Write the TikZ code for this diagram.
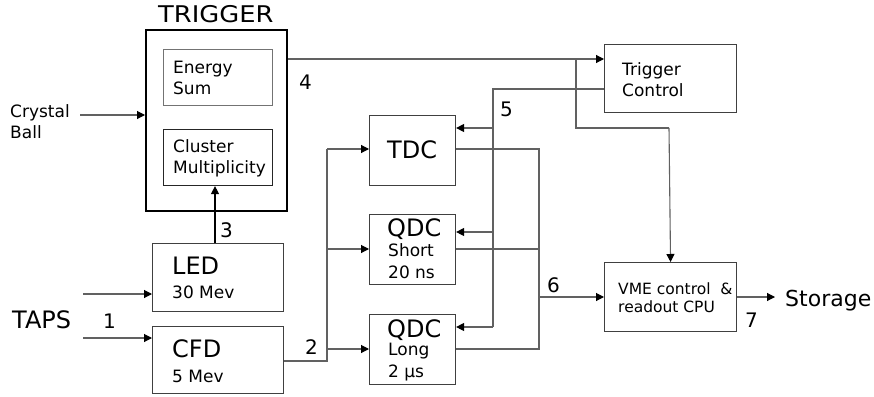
\documentclass[tikz,border=0pt]{standalone}
\usepackage{fontspec}
\setmainfont{DejaVu Sans}
\usetikzlibrary{arrows.meta}
\newcommand\fzBig{\fontsize{24}{28}\selectfont}
\newcommand\fzNum{\fontsize{20}{24}\selectfont}
\newcommand\fzMid{\fontsize{17}{20}\selectfont}
\newcommand\fzSm{\fontsize{15.5}{18}\selectfont}
\begin{document}
\begin{tikzpicture}[x=1pt,y=-1pt,
  box/.style={draw=black!75, line width=1.1pt, inner sep=0pt, anchor=north west},
  sz/.style n args={2}{minimum width=#1pt, minimum height=#2pt},
  lbl/.style={inner sep=0pt, anchor=base west},
  wire/.style={draw=black!62, line width=1.1pt},
  arr/.style={wire, -{Triangle[length=8pt,width=8pt,color=black]}}]
\useasboundingbox (0,0) rectangle (874,396);

% boxes
\node[box, draw=black, line width=2pt, sz={141}{181}] (trig) at (145,29) {};
\node[box, draw=black!55, sz={109}{56}] (esum) at (163,49) {};
\node[box, draw=black!85, sz={109}{56}] (clus) at (163,129) {};
\node[box, sz={131}{68}] (led) at (152,243) {};
\node[box, sz={131}{67}] (cfd) at (152,326) {};
\node[box, sz={86}{70}] (tdc) at (369,115) {};
\node[box, sz={86}{70}] (qs) at (369,214) {};
\node[box, sz={86}{70}] (ql) at (369,314) {};
\node[box, sz={132}{68}] (tc) at (604,44) {};
\node[box, sz={132}{69}] (vme) at (604,262) {};

% texts
\node[lbl, font={\fontsize{23}{26}\selectfont}] (ttitle) at (158,23) {\scalebox{1.12}[1]{TRIGGER}};
\node[lbl, font=\fzMid] (tes1) at (173,74) {Energy};
\node[lbl, font=\fzMid] (tes2) at (173,94) {Sum};
\node[lbl, font=\fzMid] (tcl1) at (173,152) {Cluster};
\node[lbl, font=\fzMid] (tcl2) at (173,173) {Multiplicity};
\node[lbl, font=\fzMid] (tcb1) at (10,117) {Crystal};
\node[lbl, font=\fzMid] (tcb2) at (10,138) {Ball};
\node[lbl, font=\fzBig] (tled) at (172,274) {LED};
\node[lbl, font=\fzMid] (tled2) at (172,298) {30 Mev};
\node[lbl, font=\fzBig] (tcfd) at (172,357) {CFD};
\node[lbl, font=\fzMid] (tcfd2) at (172,382) {5 Mev};
\node[lbl, font=\fzBig] (ttaps) at (12,328) {TAPS};
\node[lbl, font=\fzNum] (n1) at (103,328) {1};
\node[lbl, font=\fzNum] (n2) at (305,354) {2};
\node[lbl, font=\fzNum] (n3) at (220,237) {3};
\node[lbl, font=\fzNum] (n4) at (299,89) {4};
\node[lbl, font=\fzNum] (n5) at (500,116) {5};
\node[lbl, font=\fzNum] (n6) at (547,292) {6};
\node[lbl, font=\fzNum] (n7) at (745,327) {7};
\node[lbl, font=\fzBig] (ttdc) at (387,158) {TDC};
\node[lbl, font=\fzBig] (tqs1) at (387,236) {QDC};
\node[lbl, font=\fzMid] (tqs2) at (388,256) {Short};
\node[lbl, font=\fzMid] (tqs3) at (388,278) {20 ns};
\node[lbl, font=\fzBig] (tql1) at (387,337) {QDC};
\node[lbl, font=\fzMid] (tql2) at (388,355) {Long};
\node[lbl, font=\fzMid] (tql3) at (388,377) {2 µs};
\node[lbl, font=\fzMid] (ttc1) at (622,75) {Trigger};
\node[lbl, font=\fzMid] (ttc2) at (622,96) {Control};
\node[lbl, font=\fzSm] (tv1) at (618,294) {VME control\ \ \&};
\node[lbl, font=\fzSm] (tv2) at (618,312) {readout CPU};
\node[lbl, font={\fontsize{22}{26}\selectfont}] (tsto) at (785,306) {Storage};

% coordinates
\coordinate (cbin) at (80,115);
\coordinate (tapsA) at (83,294);
\coordinate (tapsB) at (83,338);
\coordinate (s4) at (576,59);
\coordinate (s4b) at (576,128);
\coordinate (s4c) at (669,128);
\coordinate (s5) at (493,89);
\coordinate (s5a) at (493,128);
\coordinate (s5b) at (493,232);
\coordinate (s5c) at (493,327);
\coordinate (s2) at (327,361);
\coordinate (s2a) at (327,149);
\coordinate (s2b) at (327,249);
\coordinate (s2c) at (327,349);
\coordinate (s6a) at (539,149);
\coordinate (s6b) at (539,249);
\coordinate (s6c) at (539,349);
\coordinate (s6) at (539,297);
\coordinate (stoend) at (775,297);
\coordinate (ledup) at (215,243);

% connectors
\draw[arr] (cbin) -- (trig.west |- cbin);
\draw[arr] (tapsA) -- (led.west |- tapsA);
\draw[arr] (tapsB) -- (cfd.west |- tapsB);
\draw[arr, draw=black] (led.north -| ledup) -- (clus.south -| ledup);
\draw[arr] (trig.east |- s4) -- (tc.west |- s4);
\draw[wire] (s4) -- (s4b) -- (s4c);
\draw[arr] (s4c) -- (vme.north);
\draw[wire] (tc.west |- s5) -- (s5) -- (s5c);
\draw[arr] (s5a) -- (tdc.east |- s5a);
\draw[arr] (s5b) -- (qs.east |- s5b);
\draw[arr] (s5c) -- (ql.east |- s5c);
\draw[wire] (cfd.east |- s2) -- (s2) -- (s2a);
\draw[arr] (s2a) -- (tdc.west |- s2a);
\draw[arr] (s2b) -- (qs.west |- s2b);
\draw[arr] (s2c) -- (ql.west |- s2c);
\draw[wire] (tdc.east |- s6a) -- (s6a) -- (s6c) -- (ql.east |- s6c);
\draw[wire] (qs.east |- s6b) -- (s6b);
\draw[arr] (s6) -- (vme.west |- s6);
\draw[arr] (vme.east |- stoend) -- (stoend);
\end{tikzpicture}
\end{document}
